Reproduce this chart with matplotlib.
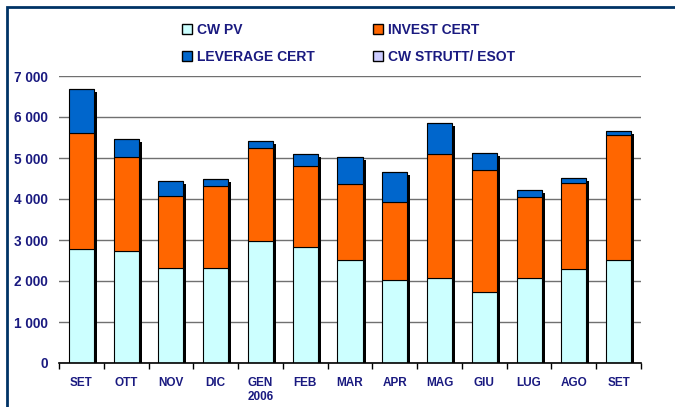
import matplotlib
matplotlib.use("Agg")
import matplotlib.pyplot as plt
import matplotlib.transforms as mtransforms
from matplotlib.patches import Rectangle, Patch
import numpy as np

plt.rcParams['font.family'] = ['Liberation Sans', 'DejaVu Sans']

mesi = ["SET", "OTT", "NOV", "DIC", "GEN\n2006", "FEB", "MAR", "APR", "MAG", "GIU", "LUG", "AGO", "SET"]
cw_pv = [2780, 2730, 2320, 2320, 2980, 2830, 2520, 2020, 2080, 1730, 2070, 2290, 2520]
invest_cert = [2830, 2290, 1750, 2000, 2260, 1970, 1840, 1910, 3010, 2980, 1970, 2110, 3040]
leverage_cert = [1070, 440, 370, 170, 170, 300, 660, 730, 760, 400, 190, 120, 100]
cw_strutt = [0, 0, 0, 0, 0, 0, 0, 0, 0, 0, 0, 0, 0]

navy = '#1a1a80'
c_pv = '#ccffff'
c_inv = '#ff6600'
c_lev = '#0066cc'
c_str = '#ccccff'

fig = plt.figure(figsize=(6.75, 4.07), dpi=100)
ax = fig.add_axes([59.0/675, 44/407, (641-59.0)/675, (363-76)/407])

x = np.arange(len(mesi))
w = 0.56
totale = np.array(cw_pv) + np.array(invest_cert) + np.array(leverage_cert) + np.array(cw_strutt)

# ombra nera delle colonne
shadow = ax.transData + mtransforms.ScaledTranslation(3/100, -3/100, fig.dpi_scale_trans)
ax.bar(x, totale, w, color='black', transform=shadow, zorder=2)

ax.bar(x, cw_pv, w, color=c_pv, edgecolor='black', linewidth=0.8, zorder=3)
ax.bar(x, invest_cert, w, bottom=cw_pv, color=c_inv, edgecolor='black', linewidth=0.8, zorder=3)
base3 = np.array(cw_pv) + np.array(invest_cert)
ax.bar(x, leverage_cert, w, bottom=base3, color=c_lev, edgecolor='black', linewidth=0.8, zorder=3)
ax.bar(x, cw_strutt, w, bottom=base3 + np.array(leverage_cert), color=c_str, edgecolor='black', linewidth=0.8, zorder=3)

ax.set_xlim(-0.5, len(mesi) - 0.5)
ax.set_ylim(0, 7000)
ax.set_yticks(range(0, 7001, 1000))
ax.set_yticklabels([f"{v:,}".replace(",", " ") for v in range(0, 7001, 1000)])
ax.yaxis.grid(True, color='#707070', linewidth=1.0, zorder=0)
ax.set_axisbelow(True)

ax.set_xticks(x)
ax.set_xticklabels(mesi)
ax.set_xticks(np.arange(-0.5, len(mesi)), minor=True)
ax.tick_params(axis='x', which='major', length=0, pad=10)
ax.tick_params(axis='x', which='minor', length=4, width=1, color='black')
ax.tick_params(axis='y', length=0, pad=8)
for lab in ax.get_yticklabels():
    lab.set_fontweight('bold')
    lab.set_fontsize(9.8)
    lab.set_color(navy)
for lab in ax.get_xticklabels():
    lab.set_fontweight('bold')
    lab.set_fontsize(8.5)
    lab.set_color(navy)
    lab.set_verticalalignment('top')
    lab.set_linespacing(1.25)

for s in ['top', 'right', 'left']:
    ax.spines[s].set_visible(False)
ax.spines['bottom'].set_color('black')
ax.spines['bottom'].set_linewidth(1.2)
ax.spines['bottom'].set_zorder(4)

handles = [Patch(facecolor=c_pv, edgecolor='black', linewidth=1.0),
           Patch(facecolor=c_lev, edgecolor='black', linewidth=1.0),
           Patch(facecolor=c_inv, edgecolor='black', linewidth=1.0),
           Patch(facecolor=c_str, edgecolor='black', linewidth=1.0)]
labels = ["CW PV", "LEVERAGE CERT", "INVEST CERT", "CW STRUTT/ ESOT"]
leg = fig.legend(handles, labels, ncol=2, loc='upper left',
                 bbox_to_anchor=(170/675, 1 - 10/407), frameon=False,
                 handlelength=0.72, handleheight=0.72, handletextpad=0.3,
                 columnspacing=4.25, labelspacing=0.95,
                 prop={'weight': 'bold', 'size': 10})
for t in leg.get_texts():
    t.set_color(navy)

# cornice blu
fig.patches.append(Rectangle((6.5/675, -0.05), 1.2, 1.05 - 6.5/407, transform=fig.transFigure,
                             fill=False, edgecolor='#003366', linewidth=2.0))

fig.savefig("out.png", dpi=100)
